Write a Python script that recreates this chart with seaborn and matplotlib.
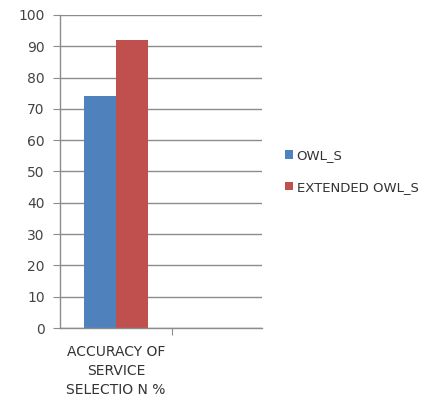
import pandas as pd
import matplotlib
matplotlib.use("Agg")
import matplotlib.pyplot as plt
import seaborn as sns
from matplotlib.patches import Patch

# data
categories = ["ACCURACY OF\nSERVICE\nSELECTIO N %"]
series = ["OWL_S", "EXTENDED OWL_S"]
values = [74, 92]
colors = ["#4F81BD", "#C0504D"]

df = pd.DataFrame({
    "category": categories * len(series),
    "series": series,
    "value": values,
})

sns.set_style("white")
plt.rcParams["font.family"] = ["DejaVu Sans"]

fig = plt.figure(figsize=(4.33, 4.04), dpi=100)
ax = fig.add_axes([0.1386, 0.188, 0.467, 0.775])

sns.barplot(data=df, x="category", y="value", hue="series",
            palette=colors, width=0.57, saturation=1, ax=ax, legend=False,
            linewidth=0)

ax.set_ylim(0, 100)
ax.set_xlim(-0.5, 1.3)
ax.set_yticks(range(0, 101, 10))
ax.yaxis.grid(True, color="#8c8c8c", linewidth=1)
ax.set_axisbelow(True)

for s in ["top", "right"]:
    ax.spines[s].set_visible(False)
for s in ["left", "bottom"]:
    ax.spines[s].set_color("#8c8c8c")
    ax.spines[s].set_linewidth(1)

ax.tick_params(axis="y", length=5, color="#8c8c8c", labelsize=10,
               labelcolor="#444444", left=True, pad=6)
ax.set_xticks([0.5])
ax.set_xticklabels([""])
ax.tick_params(axis="x", length=5, color="#8c8c8c", bottom=True)
ax.text(0, -5.5, categories[0], ha="center", va="top", fontsize=10,
        color="#333333", linespacing=1.45)
ax.set_xlabel("")
ax.set_ylabel("")

handles = [Patch(facecolor=c, edgecolor="none") for c in colors]
fig.legend(handles, series, loc="upper left", bbox_to_anchor=(0.63, 0.66),
           frameon=False, fontsize=9.5, handlelength=0.6, handleheight=0.6,
           handletextpad=0.3, labelspacing=1.4, labelcolor="#333333")

fig.savefig("out.png", dpi=100)
